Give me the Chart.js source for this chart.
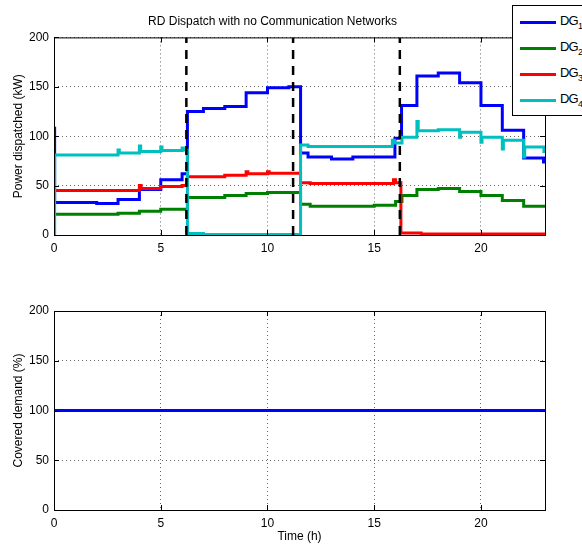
<!DOCTYPE html>
<html>
<head>
<meta charset="utf-8">
<script src="https://cdn.jsdelivr.net/npm/chart.js@4.4.1/dist/chart.umd.min.js"></script>
<style>
  html, body { margin: 0; padding: 0; width: 582px; height: 546px; overflow: hidden; background: #fff; }
  #wrap { position: relative; width: 582px; height: 546px; }
  canvas { position: absolute; left: 0; }
  #legend {
    position: absolute; left: 512px; top: 5px; width: 90px; height: 109px;
    border: 1px solid #000; background: #fff;
    font-family: "Liberation Sans", Arial, sans-serif; font-size: 13px;
  }
  .row { position: absolute; left: 0; height: 20px; }
  .swatch { position: absolute; left: 7px; width: 36px; height: 3px; }
  .lbl { position: absolute; left: 47px; top: -8px; white-space: nowrap; letter-spacing: -0.8px; }
  .lbl sub { font-size: 9px; }
</style>
</head>
<body>
<div id="wrap">
  <canvas id="dispatchChart" width="582" height="260" style="top:0"></canvas>
  <canvas id="demandChart" width="582" height="286" style="top:260px"></canvas>
  <div id="legend"></div>
</div>
<script>
// DG outputs (kW), step values starting at each time (h)
const dg1Time  = [0, 0.03, 2, 3, 4, 5, 6, 6.25, 7, 8, 9, 10, 11, 11.55, 11.9, 13, 14, 15.97, 16.28, 17, 18, 19, 20, 21, 22, 22.93, 23];
const dg1Power = [108, 33, 32, 36, 46, 56, 62, 125, 128, 130, 144, 149, 150, 83, 79, 77, 79, 98, 131, 161, 164, 154, 131, 106, 78, 74, 74];

const dg2Time  = [0, 3, 4, 5, 6.25, 8, 9, 10, 11.55, 12, 15, 16, 16.3, 17, 18, 19, 20, 21, 22, 23];
const dg2Power = [21, 22, 24, 26, 38, 40, 42, 43, 31, 29, 30, 34, 40, 46, 47, 44, 40, 35, 29, 29];

const dg3Time  = [0, 4, 4.08, 5, 6, 6.25, 8, 9, 9.08, 10, 10.08, 11.55, 12, 15.9, 16.0, 16.25, 17.2, 23];
const dg3Power = [45, 50, 47, 49, 50, 59, 60.5, 64, 62, 64, 62.5, 53, 52, 56, 53, 2, 1, 1];

const dg4Time  = [0, 0.03, 3, 3.06, 4, 4.06, 5, 5.06, 6, 6.06, 6.25, 7, 11.55, 11.9, 15.85, 15.95, 16.3, 17, 17.06, 18, 19, 19.05, 20, 20.05, 21, 21.05, 22, 22.05, 22.95, 23];
const dg4Power = [0, 81, 86, 83, 90, 84.5, 89, 85.5, 88, 86, 1.5, 0.5, 91, 89.5, 96, 93, 99, 115, 105.5, 106.5, 99, 104, 94, 99, 87, 96, 79, 89, 84.5, 84.5];

const faultTimes = [6.2, 11.2, 16.2];

const coverTime  = [0, 23];
const coverValue = [100, 100];

const seriesNames  = ['DG', 'DG', 'DG', 'DG'];
const seriesSubs   = ['1', '2', '3', '4'];
const seriesColors = ['#0000ff', '#008000', '#ff0000', '#00bfbf'];

const FONT = 'Liberation Sans, Arial, sans-serif';

function points(ts, vs) {
  return ts.map((t, i) => ({ x: t, y: vs[i] }));
}

// MATLAB-like box with inward ticks
const boxPlugin = {
  id: 'box',
  afterDraw(chart) {
    const { ctx, chartArea: a, scales } = chart;
    ctx.save();
    ctx.strokeStyle = '#000';
    ctx.lineWidth = 1;
    ctx.strokeRect(a.left + 0.5, a.top + 0.5, a.right - a.left, a.bottom - a.top);
    ctx.beginPath();
    scales.y.ticks.forEach(tk => {
      const y = Math.round(scales.y.getPixelForValue(tk.value)) + 0.5;
      ctx.moveTo(a.left, y); ctx.lineTo(a.left + 5, y);
      ctx.moveTo(a.right, y); ctx.lineTo(a.right - 5, y);
    });
    scales.x.ticks.forEach(tk => {
      const x = Math.round(scales.x.getPixelForValue(tk.value)) + 0.5;
      ctx.moveTo(x, a.bottom); ctx.lineTo(x, a.bottom - 5);
      ctx.moveTo(x, a.top); ctx.lineTo(x, a.top + 5);
    });
    ctx.stroke();
    ctx.restore();
  }
};

function scalesFor(yLabel, xLabel, xHeight) {
  return {
    x: {
      type: 'linear', min: 0, max: 23,
      afterFit: s => { s.height = xHeight; },
      border: { display: false, dash: [1, 3] },
      grid: { color: '#666', drawTicks: false },
      ticks: { stepSize: 5, includeBounds: false, padding: 6, color: '#000', font: { family: FONT, size: 12 } },
      title: xLabel ? { display: true, text: xLabel, color: '#000', font: { family: FONT, size: 12 }, padding: { top: 0, bottom: 2 } } : { display: false }
    },
    y: {
      min: 0, max: 200,
      afterFit: s => { s.width = 54; },
      border: { display: false, dash: [1, 3] },
      grid: { color: '#666', drawTicks: false },
      ticks: { stepSize: 50, padding: 5, color: '#000', font: { family: FONT, size: 12 } },
      title: { display: true, text: yLabel, color: '#000', font: { family: FONT, size: 12 }, padding: { top: 11, bottom: 0 } }
    }
  };
}

const dgTimes = [dg1Time, dg2Time, dg3Time, dg4Time];
const dgPowers = [dg1Power, dg2Power, dg3Power, dg4Power];

const dgSets = dgTimes.map((ts, i) => ({
  label: seriesNames[i] + seriesSubs[i],
  data: points(ts, dgPowers[i]),
  borderColor: seriesColors[i],
  borderWidth: 3,
  stepped: 'before',
  pointRadius: 0,
  order: 4 - i
}));

const faultSets = faultTimes.map(t => ({
  label: 'fault',
  data: [{ x: t, y: 0 }, { x: t, y: 200 }],
  borderColor: '#000',
  borderWidth: 2.5,
  borderDash: [9, 7],
  pointRadius: 0,
  order: -1
}));

new Chart(document.getElementById('dispatchChart'), {
  type: 'line',
  data: { datasets: dgSets.concat(faultSets) },
  options: {
    responsive: false,
    animation: false,
    layout: { padding: { left: 0, right: 37, top: 0, bottom: 0 } },
    plugins: {
      legend: { display: false },
      tooltip: { enabled: false },
      title: {
        display: true,
        text: 'RD Dispatch with no Communication Networks',
        color: '#000',
        font: { family: FONT, size: 12, weight: 'normal' },
        padding: { top: 14, bottom: 9 }
      }
    },
    scales: scalesFor('Power dispatched (kW)', null, 25)
  },
  plugins: [boxPlugin]
});

new Chart(document.getElementById('demandChart'), {
  type: 'line',
  data: {
    datasets: [{
      label: 'Covered demand',
      data: points(coverTime, coverValue),
      borderColor: '#0000ff',
      borderWidth: 3,
      pointRadius: 0
    }]
  },
  options: {
    responsive: false,
    animation: false,
    layout: { padding: { left: 0, right: 37, top: 51, bottom: 0 } },
    plugins: { legend: { display: false }, tooltip: { enabled: false } },
    scales: scalesFor('Covered demand (%)', 'Time (h)', 36)
  },
  plugins: [boxPlugin]
});

// legend (overlaps top-right like the original figure)
const legend = document.getElementById('legend');
seriesNames.forEach((name, i) => {
  const row = document.createElement('div');
  row.className = 'row';
  row.style.top = (15 + i * 26) + 'px';
  row.innerHTML = '<div class="swatch" style="background:' + seriesColors[i] + '"></div>' +
    '<div class="lbl">' + name + '<sub>' + seriesSubs[i] + '</sub></div>';
  legend.appendChild(row);
});
</script>
</body>
</html>
